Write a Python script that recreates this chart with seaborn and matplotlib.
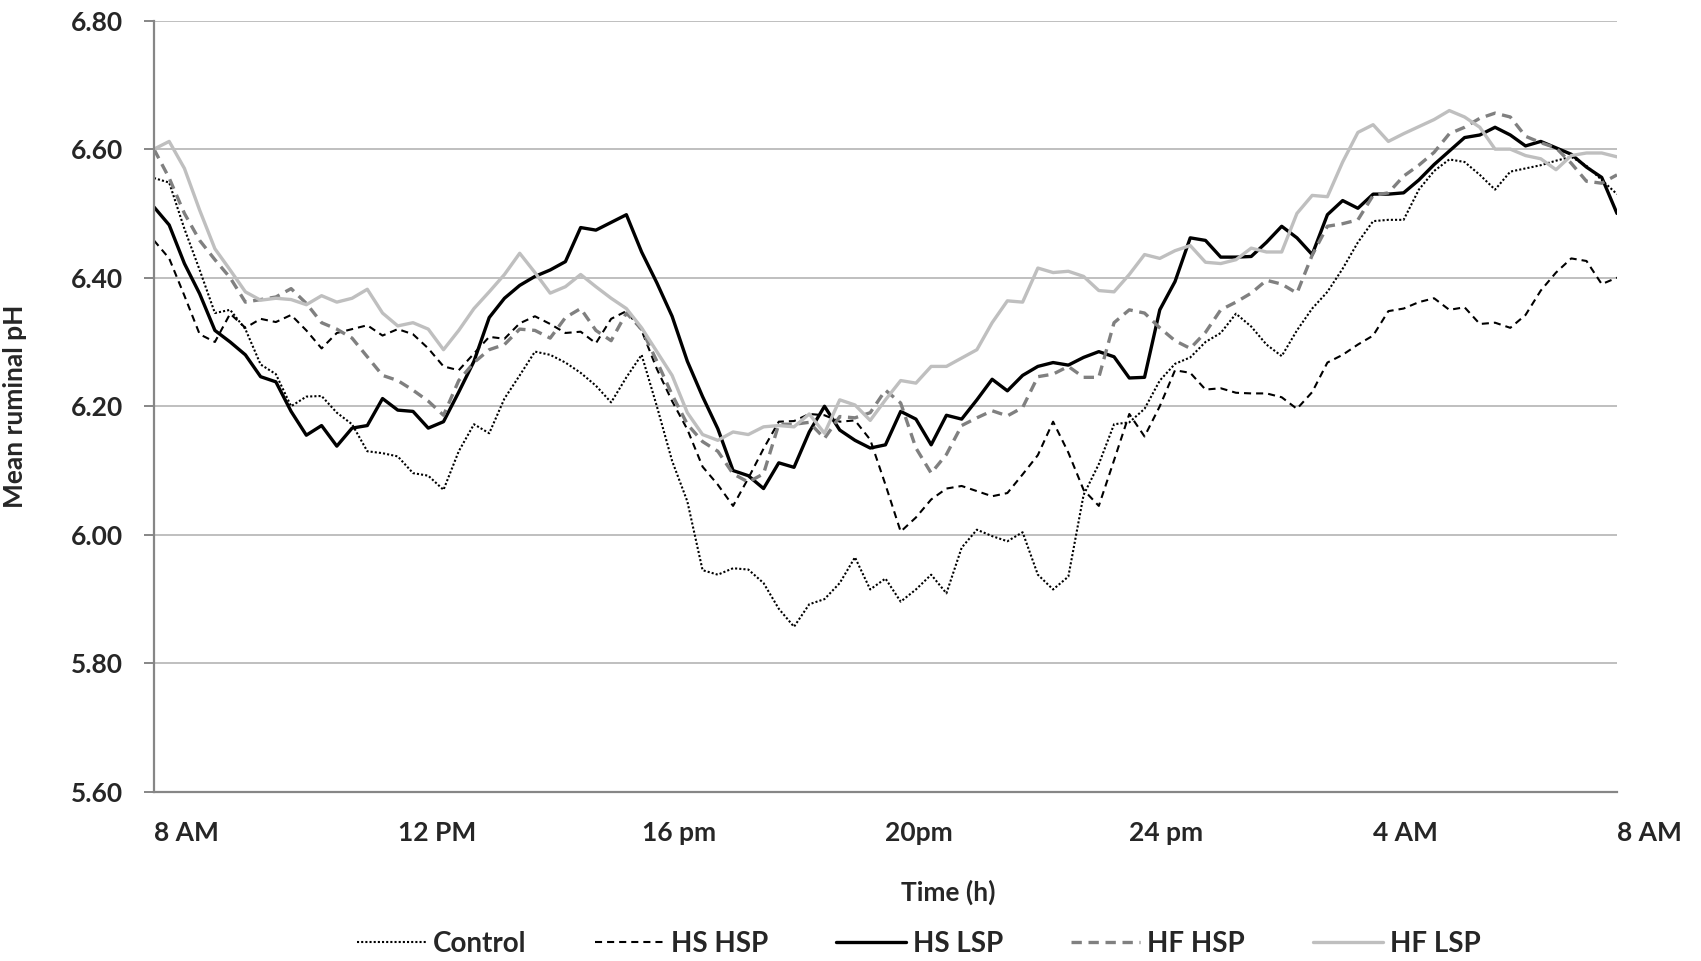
import numpy as np
import pandas as pd
import matplotlib
matplotlib.use("Agg")
import matplotlib.pyplot as plt
from matplotlib.ticker import FixedLocator, FormatStrFormatter
import seaborn as sns

# Hours after 8 AM, sampled every 15 minutes
hours = np.arange(0, 24.001, 0.25)

control = [
    6.555, 6.548, 6.476, 6.412,
    6.345, 6.350, 6.320, 6.265,
    6.250, 6.200, 6.215, 6.216,
    6.190, 6.172, 6.130, 6.127,
    6.122, 6.096, 6.092, 6.070,
    6.130, 6.172, 6.158, 6.212,
    6.248, 6.285, 6.280, 6.268,
    6.252, 6.232, 6.206, 6.245,
    6.280, 6.200, 6.115, 6.052,
    5.945, 5.938, 5.948, 5.946,
    5.925, 5.885, 5.857, 5.892,
    5.900, 5.925, 5.965, 5.915,
    5.932, 5.896, 5.915, 5.938,
    5.909, 5.980, 6.008, 5.998,
    5.990, 6.004, 5.938, 5.915,
    5.935, 6.062, 6.110, 6.172,
    6.175, 6.196, 6.240, 6.266,
    6.276, 6.300, 6.314, 6.344,
    6.324, 6.296, 6.278, 6.318,
    6.352, 6.378, 6.414, 6.455,
    6.488, 6.490, 6.490, 6.537,
    6.566, 6.584, 6.580, 6.560,
    6.537, 6.565, 6.570, 6.575,
    6.582, 6.588, 6.574, 6.552,
    6.530,
]

hs_hsp = [
    6.458, 6.430, 6.372, 6.312,
    6.300, 6.344, 6.322, 6.336,
    6.331, 6.342, 6.318, 6.290,
    6.314, 6.320, 6.326, 6.310,
    6.320, 6.312, 6.290, 6.262,
    6.256, 6.282, 6.308, 6.305,
    6.329, 6.340, 6.328, 6.314,
    6.316, 6.298, 6.336, 6.348,
    6.318, 6.258, 6.208, 6.164,
    6.106, 6.078, 6.045, 6.088,
    6.134, 6.176, 6.177, 6.188,
    6.186, 6.176, 6.178, 6.148,
    6.078, 6.005, 6.027, 6.055,
    6.072, 6.076, 6.068, 6.060,
    6.065, 6.094, 6.124, 6.176,
    6.128, 6.070, 6.045, 6.116,
    6.188, 6.153, 6.200, 6.256,
    6.252, 6.226, 6.228, 6.221,
    6.220, 6.220, 6.214, 6.196,
    6.222, 6.268, 6.280, 6.296,
    6.310, 6.348, 6.352, 6.362,
    6.368, 6.350, 6.354, 6.328,
    6.330, 6.322, 6.342, 6.380,
    6.408, 6.430, 6.426, 6.390,
    6.400,
]

hs_lsp = [
    6.510, 6.482, 6.422, 6.375,
    6.318, 6.300, 6.280, 6.246,
    6.238, 6.192, 6.155, 6.170,
    6.138, 6.166, 6.170, 6.212,
    6.194, 6.192, 6.166, 6.176,
    6.222, 6.270, 6.338, 6.368,
    6.388, 6.402, 6.412, 6.425,
    6.478, 6.474, 6.486, 6.498,
    6.440, 6.392, 6.340, 6.270,
    6.215, 6.165, 6.100, 6.092,
    6.072, 6.112, 6.105, 6.160,
    6.200, 6.163, 6.147, 6.135,
    6.140, 6.192, 6.180, 6.140,
    6.186, 6.180, 6.210, 6.242,
    6.224, 6.248, 6.262, 6.268,
    6.264, 6.276, 6.285, 6.277,
    6.244, 6.245, 6.350, 6.394,
    6.462, 6.458, 6.432, 6.432,
    6.433, 6.455, 6.480, 6.462,
    6.436, 6.498, 6.520, 6.508,
    6.530, 6.530, 6.532, 6.552,
    6.576, 6.597, 6.618, 6.622,
    6.634, 6.622, 6.605, 6.612,
    6.602, 6.592, 6.572, 6.556,
    6.500,
]

hf_hsp = [
    6.600, 6.555, 6.500, 6.458,
    6.428, 6.400, 6.362, 6.366,
    6.370, 6.383, 6.360, 6.330,
    6.320, 6.306, 6.277, 6.248,
    6.240, 6.225, 6.208, 6.186,
    6.240, 6.268, 6.288, 6.296,
    6.320, 6.318, 6.306, 6.338,
    6.352, 6.318, 6.302, 6.345,
    6.320, 6.270, 6.218, 6.172,
    6.145, 6.130, 6.095, 6.082,
    6.095, 6.172, 6.172, 6.175,
    6.150, 6.184, 6.182, 6.190,
    6.225, 6.205, 6.135, 6.096,
    6.125, 6.170, 6.182, 6.193,
    6.185, 6.198, 6.246, 6.250,
    6.262, 6.245, 6.245, 6.330,
    6.350, 6.345, 6.322, 6.302,
    6.290, 6.315, 6.350, 6.362,
    6.376, 6.396, 6.390, 6.376,
    6.435, 6.480, 6.484, 6.490,
    6.528, 6.532, 6.558, 6.575,
    6.595, 6.624, 6.634, 6.648,
    6.656, 6.650, 6.620, 6.610,
    6.602, 6.578, 6.550, 6.547,
    6.560,
]

hf_lsp = [
    6.600, 6.612, 6.570, 6.505,
    6.445, 6.412, 6.378, 6.365,
    6.368, 6.366, 6.358, 6.372,
    6.362, 6.368, 6.382, 6.345,
    6.325, 6.330, 6.320, 6.288,
    6.318, 6.352, 6.378, 6.405,
    6.438, 6.408, 6.376, 6.386,
    6.405, 6.386, 6.368, 6.352,
    6.322, 6.285, 6.248, 6.190,
    6.156, 6.147, 6.160, 6.156,
    6.168, 6.170, 6.168, 6.188,
    6.158, 6.210, 6.202, 6.178,
    6.210, 6.240, 6.236, 6.262,
    6.262, 6.275, 6.288, 6.330,
    6.364, 6.362, 6.415, 6.408,
    6.410, 6.402, 6.380, 6.378,
    6.405, 6.436, 6.430, 6.442,
    6.450, 6.424, 6.422, 6.428,
    6.446, 6.440, 6.440, 6.500,
    6.528, 6.526, 6.580, 6.626,
    6.638, 6.612, 6.624, 6.635,
    6.646, 6.660, 6.650, 6.634,
    6.600, 6.600, 6.590, 6.585,
    6.568, 6.590, 6.594, 6.594,
    6.588,
]

treatments = ["Control", "HS HSP", "HS LSP", "HF HSP", "HF LSP"]
series = [control, hs_hsp, hs_lsp, hf_hsp, hf_lsp]

tick_hours = [0, 4, 8, 12, 16, 20, 24]
tick_labels = ["8 AM", "12 PM", "16 pm", "20pm", "24 pm", "4 AM", "8 AM"]
y_ticks = [5.60, 5.80, 6.00, 6.20, 6.40, 6.60, 6.80]

df = pd.DataFrame({
    "Time": np.tile(hours, len(treatments)),
    "pH": np.concatenate(series),
    "Treatment": np.repeat(treatments, len(hours)),
})

styles = {
    "Control": dict(color="black", linewidth=1.5, linestyle=(0, (1, 1))),
    "HS HSP": dict(color="black", linewidth=1.5, linestyle=(0, (3.4, 2.4))),
    "HS LSP": dict(color="black", linewidth=2.4, linestyle="-"),
    "HF HSP": dict(color="#808080", linewidth=2.4, linestyle=(0, (3.1, 2.0))),
    "HF LSP": dict(color="#BFBFBF", linewidth=2.4, linestyle="-"),
}

sns.set_theme(style="white")
plt.rcParams["font.family"] = ["Lato", "DejaVu Sans"]
plt.rcParams["font.weight"] = "bold"

fig = plt.figure(figsize=(17.01, 9.61), dpi=100)
ax = fig.add_axes([0.0905, 0.1759, 0.8601, 0.8027])

for name in treatments:
    sub = df[df["Treatment"] == name]
    sns.lineplot(data=sub, x="Time", y="pH", ax=ax, label=name,
                 legend=False, **styles[name])

ax.set_xlim(0, 24)
ax.set_ylim(5.60, 6.80)
ax.yaxis.set_major_locator(FixedLocator(y_ticks))
ax.yaxis.set_major_formatter(FormatStrFormatter("%.2f"))
ax.grid(axis="y", color="#BFBFBF", linewidth=1.4)
ax.grid(axis="x", visible=False)
ax.set_axisbelow(True)

ax.set_xticks(tick_hours)
ax.set_xticklabels(tick_labels, ha="left")
ax.tick_params(axis="x", length=0, pad=21, labelsize=19)
ax.tick_params(axis="y", length=7, width=1.4, color="#868686",
               direction="out", pad=15, labelsize=19, left=True)
for lab in ax.get_xticklabels() + ax.get_yticklabels():
    lab.set_fontweight("bold")

for side in ["top", "right"]:
    ax.spines[side].set_visible(False)
for side in ["left", "bottom"]:
    ax.spines[side].set_color("#868686")
    ax.spines[side].set_linewidth(1.6)

ax.set_ylabel("Mean ruminal pH", fontsize=19, fontweight="bold")
ax.yaxis.set_label_coords(-0.0868, 0.5)
ax.set_xlabel("Time (h)", fontsize=19, fontweight="bold")
ax.xaxis.set_label_coords(0.543, -0.114)

handles, labels = ax.get_legend_handles_labels()
fig.legend(handles, labels, loc="center", bbox_to_anchor=(0.540, 0.0175),
           ncol=5, frameon=False, handlelength=2.5,
           handletextpad=0.25, columnspacing=2.45,
           prop={"weight": "bold", "size": 20})

fig.savefig("out.png", dpi=100)
